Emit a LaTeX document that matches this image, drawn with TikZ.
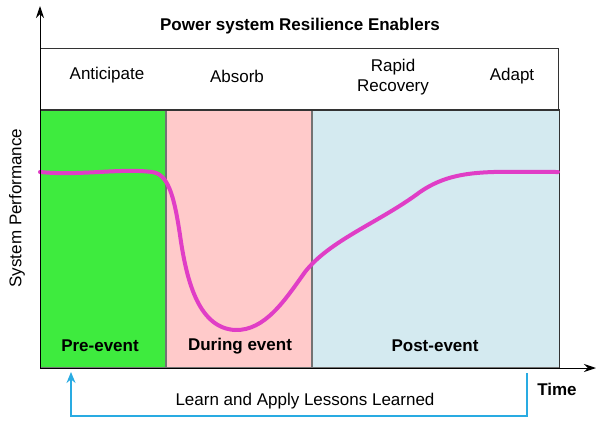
\documentclass[tikz,border=0pt]{standalone}
\usepackage{fontspec}
\setmainfont{Liberation Sans}
\usetikzlibrary{arrows.meta, positioning, calc}
\definecolor{preGreen}{RGB}{62, 235, 62}
\definecolor{duringPink}{RGB}{255, 202, 202}
\definecolor{postBlue}{RGB}{212, 234, 240}
\definecolor{perfMagenta}{RGB}{224, 62, 198}
\definecolor{lessonCyan}{RGB}{41, 171, 226}

\begin{document}
\begin{tikzpicture}[
    x=1pt, y=-1pt,
    region/.style={rectangle, draw=black!55, line width=0.9pt, minimum height=258pt, inner sep=0pt},
    txt/.style={font=\fontsize{17}{20}\selectfont, align=center, inner sep=0pt},
    bold/.style={txt, font=\fontsize{17}{20}\selectfont\bfseries},
    axis/.style={-{Stealth[length=12pt, width=8pt]}, line width=1pt},
    arrow/.style={-{Stealth[length=11pt, width=9pt]}, line width=1.4pt, draw=lessonCyan}
]
\useasboundingbox (0,0) rectangle (596,420);

% Phases
\node[region, fill=preGreen, minimum width=125pt, anchor=south west] (pre) at (40,368) {};
\node[region, fill=duringPink, minimum width=145pt, right=0pt of pre] (during) {};
\node[region, fill=postBlue, minimum width=247pt, right=0pt of during] (post) {};
\draw[line width=1.2pt, black!80] (pre.north west) -- (post.north east) -- (post.south east);

\node[bold] (preLbl) at (100,346) {Pre-event};
\node[bold] (duringLbl) at (240,346) {During event};
\node[bold] (postLbl) at (435,346) {Post-event};

% Enablers
\node[rectangle, draw=black!80, line width=1.2pt, minimum width=518pt, minimum height=62pt, anchor=north west] (enablers) at (40,48) {};
\node[bold] (title) at (300,26) {Power system Resilience Enablers};
\node[txt] (anticipate) at (107,75) {Anticipate};
\node[txt] (absorb) at (237,76) {Absorb};
\node[txt] (recovery) at (393,77) {Rapid\\Recovery};
\node[txt] (adapt) at (512,76) {Adapt};

% Performance curve
\draw[perfMagenta, line width=4pt, line cap=round]
    (40,172) .. controls (80,176) and (120,168) .. (152,172)
    .. controls (168,174) and (174,195) .. (180,235)
    .. controls (187,285) and (200,328) .. (235,330)
    .. controls (265,331) and (285,300) .. (305,272)
    .. controls (330,240) and (380,222) .. (420,192)
    .. controls (455,168) and (490,172) .. (558,172);

% Axes
\coordinate (origin) at (40,368);
\coordinate (yTop) at (40,6);
\coordinate (xEnd) at (596,368);
\draw[axis] (origin) -- (yTop);
\draw[axis] (origin) -- (xEnd);
\node[txt, rotate=90] (perf) at (17,208) {System Performance};
\node[bold] (time) at (557,389) {Time};

% Lessons loop
\coordinate (loopStart) at (527,373);
\coordinate (loopEnd) at (71,372);
\draw[arrow] (loopStart) |- ($(loopEnd)+(0,44)$) -- (loopEnd);
\node[txt] (lessons) at (305,401) {Learn and Apply Lessons Learned};

\end{tikzpicture}
\end{document}
